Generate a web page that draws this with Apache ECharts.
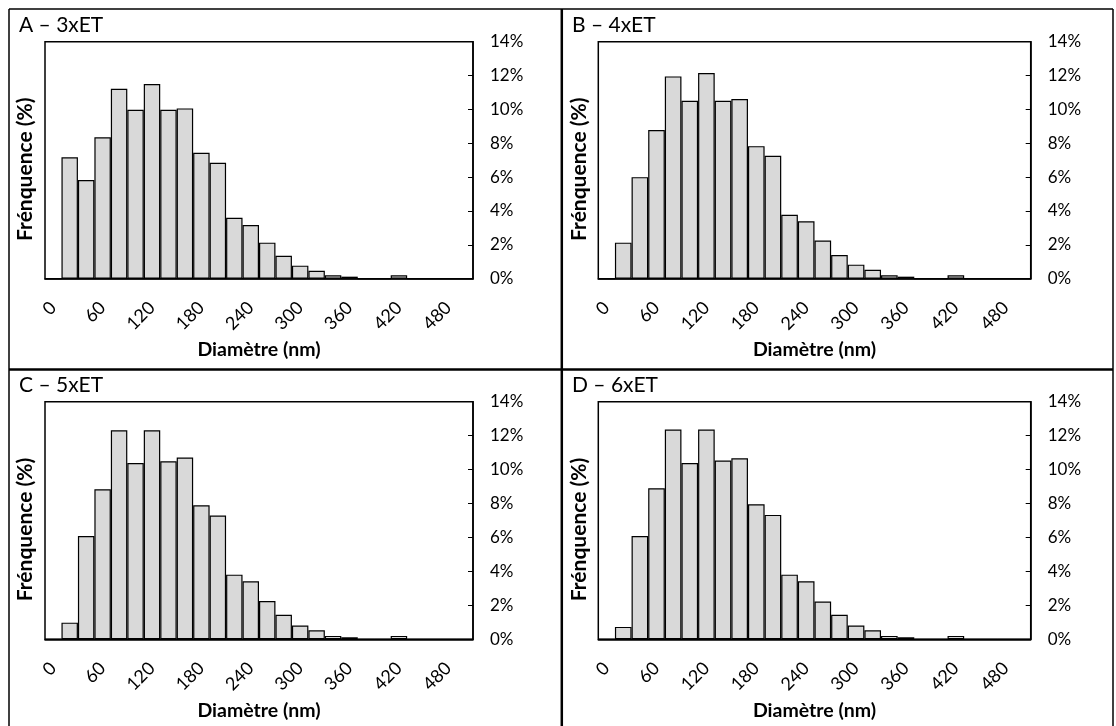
<!DOCTYPE html>
<html>
<head>
<meta charset="utf-8">
<script src="https://cdn.jsdelivr.net/npm/echarts@6/dist/echarts.min.js"></script>
<style>
  html, body { margin: 0; padding: 0; background: #fff; }
  #chart { width: 1116px; height: 726px; }
</style>
</head>
<body>
<div id="chart"></div>
<script>
// Diameter bins (nm) — category axis
const categories = ['0','20','40','60','80','100','120','140','160','180','200','220','240','260','280','300','320','340','360','380','400','420','440','460','480','500'];
// Frequency (%) for each panel
const freqA = [0, 7.17, 5.83, 8.35, 11.22, 9.98, 11.50, 9.98, 10.06, 7.44, 6.85, 3.60, 3.17, 2.13, 1.36, 0.77, 0.47, 0.20, 0.12, 0, 0, 0.20, 0, 0, 0, 0];
const freqB = [0, 2.13, 6.00, 8.78, 11.95, 10.51, 12.15, 10.51, 10.61, 7.83, 7.26, 3.78, 3.39, 2.26, 1.40, 0.83, 0.53, 0.20, 0.12, 0, 0, 0.20, 0, 0, 0, 0];
const freqC = [0, 0.98, 6.09, 8.84, 12.32, 10.39, 12.32, 10.49, 10.71, 7.90, 7.29, 3.81, 3.42, 2.26, 1.45, 0.81, 0.53, 0.20, 0.12, 0, 0, 0.20, 0, 0, 0, 0];
const freqD = [0, 0.73, 6.09, 8.90, 12.36, 10.39, 12.36, 10.53, 10.67, 7.96, 7.33, 3.81, 3.42, 2.22, 1.45, 0.81, 0.53, 0.20, 0.12, 0, 0, 0.20, 0, 0, 0, 0];
const panelTitles = ['A – 3xET', 'B – 4xET', 'C – 5xET', 'D – 6xET'];
const xAxisTitle = 'Diamètre (nm)';
const yAxisTitle = 'Frénquence (%)';
const yMin = 0, yMax = 14, yStep = 2;

const seriesData = [freqA, freqB, freqC, freqD];
const FONT = 'Lato';

const grids = [
  { left: 45,    top: 41.7,  width: 428, height: 237 },
  { left: 598.3, top: 41.7,  width: 432.4, height: 237 },
  { left: 45,    top: 401.7, width: 428, height: 237.6 },
  { left: 598.3, top: 401.7, width: 432.4, height: 237.6 }
];
const titlePos = [
  { left: 19, top: 15 },
  { left: 572, top: 15 },
  { left: 19, top: 375 },
  { left: 572, top: 375 }
];

const chart = echarts.init(document.getElementById('chart'), null, { renderer: 'canvas' });

const option = {
  animation: false,
  backgroundColor: '#fff',
  title: panelTitles.map((t, i) => ({
    text: t, left: titlePos[i].left, top: titlePos[i].top, padding: 0,
    textStyle: { fontFamily: FONT, fontSize: 21, fontWeight: 'normal', color: '#000' }
  })),
  grid: grids.map(g => Object.assign({ show: true, borderColor: '#000', borderWidth: 1.5, backgroundColor: 'transparent' }, g)),
  xAxis: grids.map((g, i) => ({
    type: 'category', gridIndex: i, data: categories, boundaryGap: true,
    axisLine: { show: true, lineStyle: { color: '#000', width: 1.5 } },
    axisTick: { show: false },
    axisLabel: { interval: 2, rotate: 45, margin: 26, fontFamily: FONT, fontSize: 18, color: '#000' },
    name: xAxisTitle, nameLocation: 'middle', nameGap: 61,
    nameTextStyle: { fontFamily: FONT, fontSize: 19.5, fontWeight: 'bold', color: '#000' }
  })),
  yAxis: grids.flatMap((g, i) => ([
    {
      type: 'value', gridIndex: i, position: 'right', min: yMin, max: yMax, interval: yStep,
      axisLine: { show: true, lineStyle: { color: '#000', width: 1.5 } },
      axisTick: { show: true, inside: true, length: 5, lineStyle: { color: '#000', width: 1 } },
      axisLabel: { margin: 17, fontFamily: FONT, fontSize: 17, color: '#000', formatter: '{value}%' },
      splitLine: { show: false }
    },
    {
      type: 'value', gridIndex: i, position: 'left', min: yMin, max: yMax, interval: yStep,
      axisLine: { show: false }, axisTick: { show: false }, axisLabel: { show: false }, splitLine: { show: false },
      name: yAxisTitle, nameLocation: 'middle', nameGap: 9, nameRotate: 90,
      nameTextStyle: { fontFamily: FONT, fontSize: 21, fontWeight: 'bold', color: '#000', padding: [0, 18, 0, 0] }
    }
  ])),
  series: seriesData.map((d, i) => ({
    type: 'bar', xAxisIndex: i, yAxisIndex: i * 2, data: d,
    barCategoryGap: '0%',
    itemStyle: { color: '#D9D9D9', borderColor: '#000', borderWidth: 1.2 },
    silent: true
  })),
  graphic: [
    { type: 'line', shape: { x1: 9, y1: 9, x2: 1113, y2: 9 }, style: { stroke: '#000', lineWidth: 1.5 } },
    { type: 'line', shape: { x1: 9, y1: 9, x2: 9, y2: 726 }, style: { stroke: '#000', lineWidth: 1.5 } },
    { type: 'line', shape: { x1: 1113, y1: 9, x2: 1113, y2: 726 }, style: { stroke: '#000', lineWidth: 1.5 } },
    { type: 'line', shape: { x1: 561.8, y1: 9, x2: 561.8, y2: 726 }, style: { stroke: '#000', lineWidth: 2.5 } },
    { type: 'line', shape: { x1: 9, y1: 369.5, x2: 1113, y2: 369.5 }, style: { stroke: '#000', lineWidth: 2.5 } }
  ]
};
chart.setOption(option);
</script>
</body>
</html>
